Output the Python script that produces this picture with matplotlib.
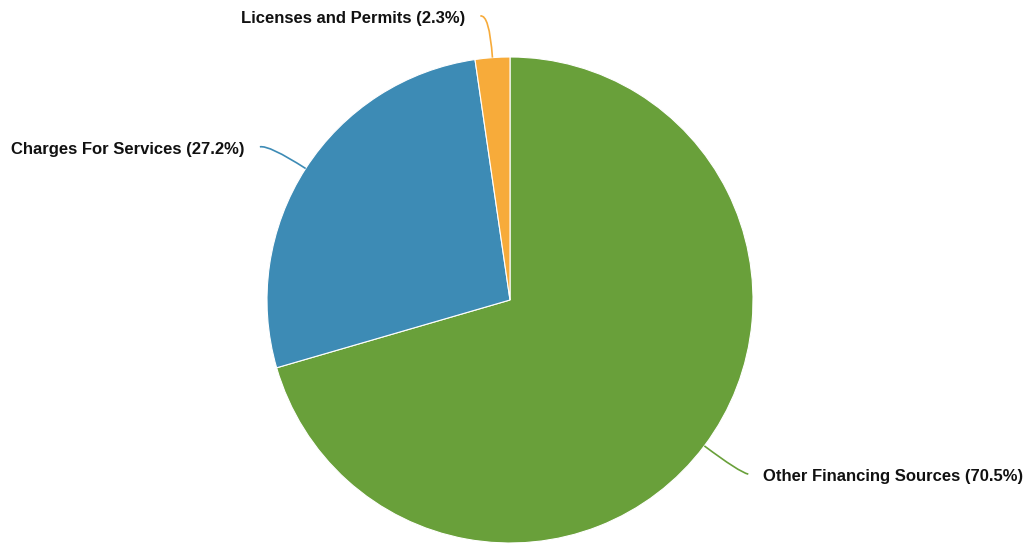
import numpy as np
import matplotlib.pyplot as plt
from matplotlib.path import Path
from matplotlib.patches import PathPatch

labels = ['Other Financing Sources', 'Charges For Services', 'Licenses and Permits']
shares = [70.5, 27.2, 2.3]
colors = ['#69a03a', '#3d8bb5', '#f7ab3a']

W, H = 1028, 546
cx, cy, R = 510, 246, 243

fig = plt.figure(figsize=(W / 100, H / 100), dpi=100)
ax = fig.add_axes([0, 0, 1, 1])

wedges, _ = ax.pie(shares, colors=colors, startangle=90, counterclock=False,
                   center=(cx, cy), radius=R, frame=True,
                   wedgeprops=dict(edgecolor='white', linewidth=0.8))
ax.set_xlim(0, W)
ax.set_ylim(0, H)
ax.set_aspect('equal')
ax.axis('off')

# leader curves: edge -> radial elbow -> short horizontal tail, then the label
for w, lab, val, col in zip(wedges, labels, shares, colors):
    mid = np.deg2rad((w.theta1 + w.theta2) / 2)
    ux, uy = np.cos(mid), np.sin(mid)
    side = 1 if ux >= 0 else -1
    p0 = (cx + R * ux, cy + R * uy)
    p1 = (cx + 1.18 * R * ux, cy + 1.18 * R * uy)
    p2 = (p1[0] + side * 9, p1[1] - 2)
    path = Path([p0, p1, p2], [Path.MOVETO, Path.CURVE3, Path.CURVE3])
    ax.add_patch(PathPatch(path, fc='none', ec=col, lw=1.2))
    ax.text(p2[0] + side * 15, p2[1] - 2.5, f'{lab} ({val}%)',
            ha='left' if side > 0 else 'right', va='center',
            fontsize=12, fontweight='bold', family='Liberation Sans', color='#111111')

fig.savefig('out.png', dpi=100)
